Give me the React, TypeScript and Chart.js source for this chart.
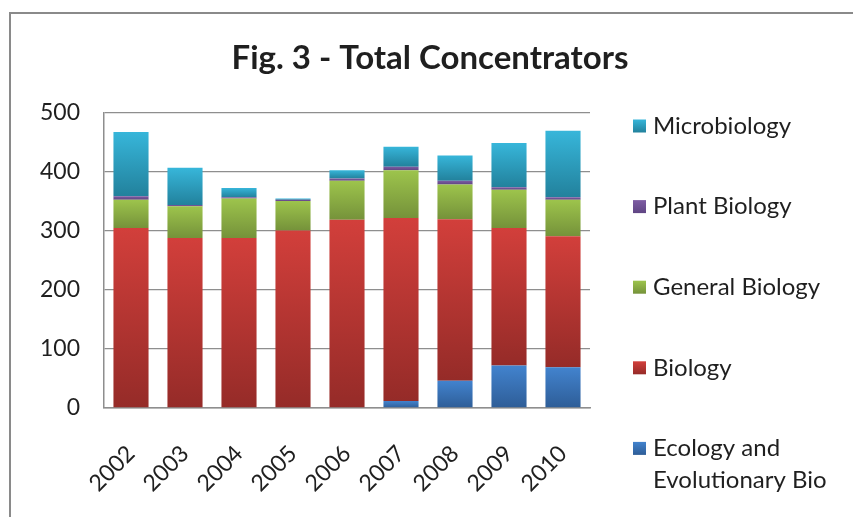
import React, { useEffect, useRef } from "react";
import { Chart, registerables } from "chart.js";

Chart.register(...registerables);

const years = ["2002", "2003", "2004", "2005", "2006", "2007", "2008", "2009", "2010"];
const ecology = [0, 0, 0, 0, 0, 12, 46, 72, 69];
const biology = [305, 288, 288, 301, 319, 310, 274, 233, 222];
const generalBio = [48, 54, 67, 50, 66, 81, 59, 65, 62];
const plantBio = [6, 2, 2, 2, 4, 6, 6, 4, 4];
const microBio = [109, 63, 16, 2, 14, 34, 43, 75, 113];
const yTicks = [0, 100, 200, 300, 400, 500];
const titleText = "Fig. 3 - Total Concentrators";

const seriesList = [ecology, biology, generalBio, plantBio, microBio];
const seriesNames = [["Ecology and", "Evolutionary Bio"], ["Biology"], ["General Biology"], ["Plant Biology"], ["Microbiology"]];
const lightColors = ["#4283ce", "#d23f3b", "#9dc44c", "#7d5ca3", "#37b6da"];
const darkColors = ["#2e5d97", "#952b28", "#75923a", "#5f4583", "#22819c"];

function gradFor(k: number) {
  return (ctx: any) => {
    const chart = ctx.chart;
    const y = chart.scales && chart.scales.y;
    if (!chart.chartArea || !y || ctx.type !== "data") return darkColors[k];
    const i = ctx.dataIndex;
    let base = 0;
    for (let j = 0; j < k; j++) base += seriesList[j][i];
    const top = base + seriesList[k][i];
    const y0 = y.getPixelForValue(top);
    const y1 = y.getPixelForValue(base);
    if (y1 - y0 < 1) return lightColors[k];
    const g = chart.ctx.createLinearGradient(0, y0, 0, y1);
    g.addColorStop(0, lightColors[k]);
    g.addColorStop(1, darkColors[k]);
    return g;
  };
}

const legendPlugin = {
  id: "customLegend",
  afterDraw(chart: any) {
    const c = chart.ctx;
    c.save();
    // title
    c.font = "bold 33px Lato";
    c.textAlign = "center";
    c.textBaseline = "middle";
    c.fillStyle = "#1f1f1f";
    c.fillText(titleText, 430, 58);
    // legend
    c.textAlign = "left";
    c.font = "24px Lato";
    const order = [4, 3, 2, 1, 0];
    const x0 = 633;
    const startY = 126;
    const step = 80.6;
    order.forEach((k, idx) => {
      const cy = startY + idx * step;
      const g = c.createLinearGradient(0, cy - 6.5, 0, cy + 6.5);
      g.addColorStop(0, lightColors[k]);
      g.addColorStop(1, darkColors[k]);
      c.fillStyle = g;
      c.fillRect(x0, cy - 6.5, 13, 13);
      c.fillStyle = "#1f1f1f";
      const lines = (chart.data.datasets[k].legendLines as string[]) || [chart.data.datasets[k].label];
      lines.forEach((t: string, li: number) => {
        c.fillText(t, 653, cy + li * 32);
      });
    });
    c.restore();
  },
};

export default function App() {
  const ref = useRef<HTMLCanvasElement | null>(null);
  useEffect(() => {
    if (!ref.current) return;
    Chart.defaults.font.family = "Lato";
    const chart = new Chart(ref.current, {
      type: "bar",
      data: {
        labels: years,
        datasets: seriesList.map((d, k) => ({
          label: seriesNames[k].join(" "),
          legendLines: seriesNames[k],
          data: d,
          backgroundColor: gradFor(k),
          borderWidth: 0,
          barPercentage: 0.65,
          categoryPercentage: 1,
        })) as any,
      },
      options: {
        animation: false,
        responsive: false,
        maintainAspectRatio: false,
        layout: { padding: { left: 10, right: 263, top: 113, bottom: 0 } },
        plugins: {
          legend: { display: false },
          tooltip: { enabled: false },
          title: { display: false },
        },
        scales: {
          x: {
            stacked: true,
            grid: { display: false, drawTicks: false },
            border: { display: true, color: "#8e8e8e", width: 1.5 },
            ticks: {
              color: "#1f1f1f",
              font: { size: 23 },
              minRotation: 45,
              maxRotation: 45,
              padding: 32,
              autoSkip: false,
            },
            afterFit: (s: any) => {
              s.height = 109;
            },
          },
          y: {
            stacked: true,
            min: 0,
            max: 500,
            afterBuildTicks: (s: any) => {
              s.ticks = yTicks.map((v) => ({ value: v }));
            },
            grid: { color: "#8e8e8e", lineWidth: 1.3, drawTicks: false },
            border: { display: true, color: "#8e8e8e", width: 1.5 },
            ticks: { color: "#1f1f1f", font: { size: 23 }, padding: 24 },
            afterFit: (s: any) => {
              s.width = 94;
            },
          },
        },
      },
      plugins: [legendPlugin],
    } as any);
    return () => chart.destroy();
  }, []);
  return (
    <div style={{ position: "fixed", left: 0, top: 0, width: 853, height: 517, background: "#fff" }}>
      <canvas ref={ref} width={853} height={517} style={{ position: "absolute", left: 0, top: 0 }} />
      <div
        style={{
          position: "absolute",
          left: 9,
          top: 12,
          right: 0,
          bottom: 0,
          borderTop: "2px solid #8a8a8a",
          borderLeft: "2px solid #8a8a8a",
          pointerEvents: "none",
        }}
      />
    </div>
  );
}
